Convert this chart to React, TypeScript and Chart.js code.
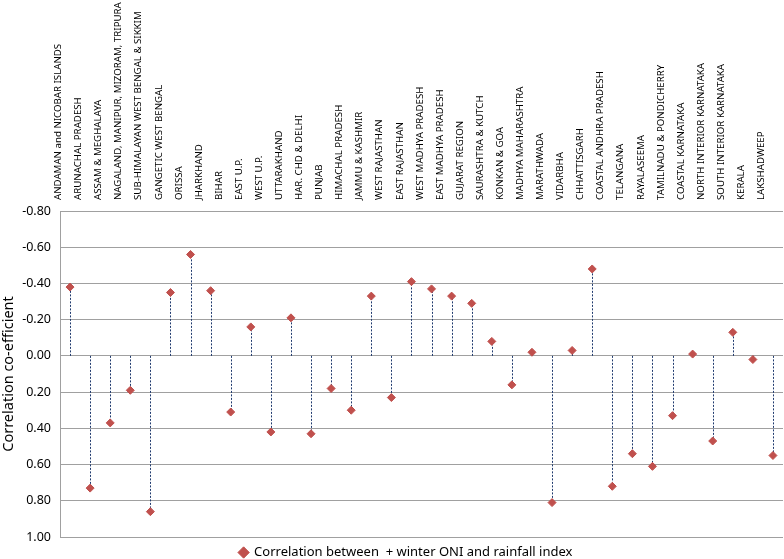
import React, { useEffect, useRef } from "react";
import { Chart, registerables } from "chart.js";

Chart.register(...registerables);

const categories: string[] = [
  "ANDAMAN and NICOBAR ISLANDS",
  "ARUNACHAL PRADESH",
  "ASSAM & MEGHALAYA",
  "NAGALAND, MANIPUR, MIZORAM, TRIPURA",
  "SUB-HIMALAYAN WEST BENGAL & SIKKIM",
  "GANGETIC WEST BENGAL",
  "ORISSA",
  "JHARKHAND",
  "BIHAR",
  "EAST U.P.",
  "WEST U.P.",
  "UTTARAKHAND",
  "HAR. CHD & DELHI",
  "PUNJAB",
  "HIMACHAL PRADESH",
  "JAMMU & KASHMIR",
  "WEST RAJASTHAN",
  "EAST RAJASTHAN",
  "WEST MADHYA PRADESH",
  "EAST MADHYA PRADESH",
  "GUJARAT REGION",
  "SAURASHTRA & KUTCH",
  "KONKAN & GOA",
  "MADHYA MAHARASHTRA",
  "MARATHWADA",
  "VIDARBHA",
  "CHHATTISGARH",
  "COASTAL ANDHRA PRADESH",
  "TELANGANA",
  "RAYALASEEMA",
  "TAMILNADU & PONDICHERRY",
  "COASTAL KARNATAKA",
  "NORTH INTERIOR KARNATAKA",
  "SOUTH INTERIOR KARNATAKA",
  "KERALA",
  "LAKSHADWEEP",
];

const correlation: number[] = [
  -0.38, 0.73, 0.37, 0.19, 0.86, -0.35, -0.56, -0.36, 0.31, -0.16, 0.42, -0.21,
  0.43, 0.18, 0.3, -0.33, 0.23, -0.41, -0.37, -0.33, -0.29, -0.08, 0.16, -0.02,
  0.81, -0.03, -0.48, 0.72, 0.54, 0.61, 0.33, -0.01, 0.47, -0.13, 0.02, 0.55,
];

const seriesLabel = "Correlation between  + winter ONI and rainfall index";
const yTitle = "Correlation co-efficient";
const yMin = -0.8;
const yMax = 1.0;
const yStep = 0.2;

const dropLines = {
  id: "dropLines",
  beforeDatasetsDraw(chart: any) {
    const meta = chart.getDatasetMeta(0);
    const y0 = chart.scales.y.getPixelForValue(0);
    const ctx = chart.ctx;
    ctx.save();
    ctx.strokeStyle = "#1F3A6E";
    ctx.lineWidth = 1;
    ctx.setLineDash([2, 1.5]);
    meta.data.forEach((p: any) => {
      const x = Math.round(p.x) + 0.5;
      ctx.beginPath();
      ctx.moveTo(x, y0);
      ctx.lineTo(x, p.y);
      ctx.stroke();
    });
    ctx.restore();
  },
};

const layoutFix = {
  id: "layoutFix",
  afterLayout(chart: any) {
    const right = chart.width - 1;
    const xs = chart.scales.x;
    chart.chartArea.right = right;
    chart.chartArea.width = right - chart.chartArea.left;
    xs.right = right;
    xs.width = right - xs.left;
    xs.configure();
    const lg = chart.legend;
    if (lg) {
      lg.left = 14;
      lg.right = chart.width + 14;
    }
  },
  beforeDraw(chart: any) {
    const lg = chart.legend;
    if (lg) {
      lg.left = 14;
      lg.right = chart.width + 14;
    }
  },
};

export default function App() {
  const ref = useRef<HTMLCanvasElement | null>(null);

  useEffect(() => {
    if (!ref.current) return;
    const chart = new Chart(ref.current, {
      type: "line",
      data: {
        labels: categories,
        datasets: [
          {
            label: seriesLabel,
            data: correlation,
            showLine: false,
            pointStyle: "rectRot",
            pointRadius: 4,
            pointBackgroundColor: "#C0504D",
            pointBorderColor: "#C0504D",
            backgroundColor: "#C0504D",
            borderColor: "#C0504D",
          },
        ],
      },
      options: {
        animation: false,
        responsive: false,
        maintainAspectRatio: false,
        layout: { padding: { left: 0, right: 0, top: 0, bottom: -10 } },
        plugins: {
          legend: {
            position: "bottom",
            labels: {
              usePointStyle: true,
              pointStyle: "rectRot",
              boxWidth: 8,
              boxHeight: 8,
              padding: 9,
              color: "#000",
              font: { family: "Noto Sans", size: 13 },
            },
          },
          tooltip: { enabled: false },
        },
        scales: {
          x: {
            position: "top",
            offset: true,
            grid: { display: false, drawTicks: false },
            border: { display: false },
            afterFit: (scale: any) => {
              scale.height = 211;
              scale.paddingLeft = 0;
              scale.paddingRight = 0;
            },
            ticks: {
              autoSkip: false,
              minRotation: 90,
              maxRotation: 90,
              padding: 11,
              color: "#000",
              font: { family: "Noto Sans", size: 9.7 },
            },
          },
          y: {
            reverse: true,
            min: yMin,
            max: yMax,
            grid: { color: "#A0A0A0", lineWidth: 1, drawTicks: false },
            border: { display: true, color: "#A0A0A0" },
            afterFit: (scale: any) => {
              scale.width = 60;
            },
            ticks: {
              stepSize: yStep,
              padding: 9,
              color: "#000",
              font: { family: "Noto Sans", size: 12.5 },
              callback: (v: any) => Number(v).toFixed(2),
            },
            title: {
              display: true,
              text: yTitle,
              color: "#000",
              padding: { top: 0, bottom: 2 },
              font: { family: "Noto Sans", size: 14.5 },
            },
          },
        },
      },
      plugins: [dropLines, layoutFix],
    });
    return () => chart.destroy();
  }, []);

  return (
    <div style={{ position: "fixed", left: 0, top: 0, width: 784, height: 559, background: "#fff" }}>
      <canvas ref={ref} width={784} height={559} style={{ width: 784, height: 559 }} />
    </div>
  );
}
